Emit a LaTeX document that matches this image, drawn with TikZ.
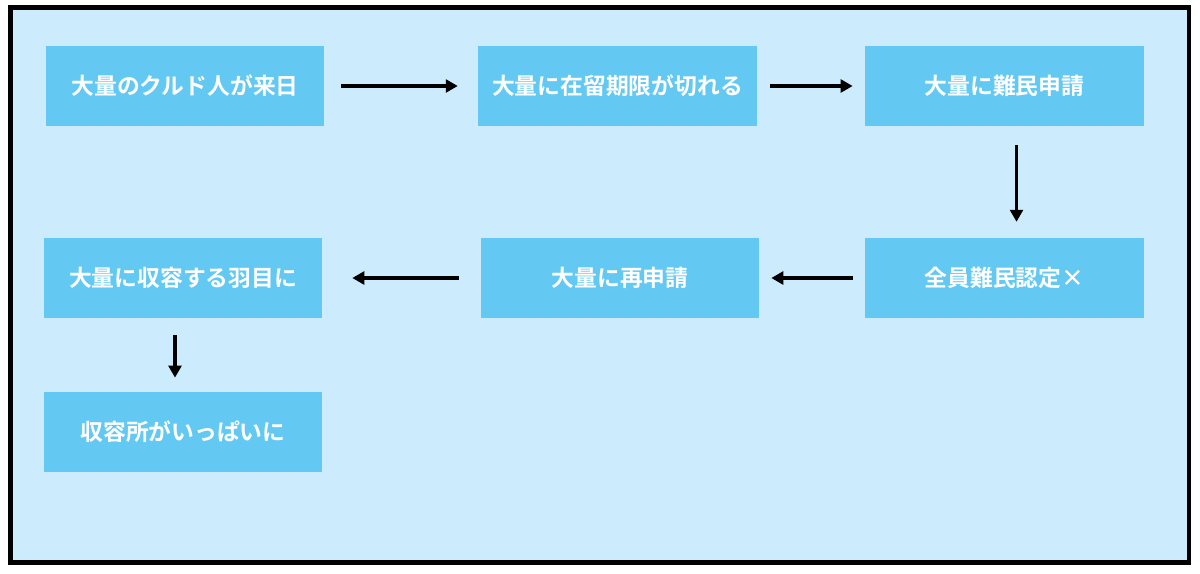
\documentclass[tikz,border=0pt]{standalone}
\usepackage{fontspec}
\newfontfamily\jpfont{Noto Sans CJK JP}[BoldFont={Noto Sans CJK JP Bold}]
\usetikzlibrary{arrows.meta}

\definecolor{bgblue}{RGB}{204,235,253}
\definecolor{boxblue}{RGB}{99,201,243}

\tikzset{
  stepbox/.style={fill=boxblue, minimum width=6.95cm, minimum height=2cm,
    inner sep=0pt, text=white, font=\jpfont\bfseries\fontsize{16.2}{19}\selectfont},
  flow/.style={line width=2.6pt, -{Triangle[length=3mm,width=3.2mm]}}
}

\begin{document}
\begin{tikzpicture}[x=0.025cm, y=-0.025cm]
  \useasboundingbox (0,0) rectangle (1200,573);
  \draw[line width=3.2pt, fill=bgblue] (10.5,7.5) rectangle (1189,562.5);

  % top row
  \node[stepbox] at (185,86) (n1) {大量のクルド人が来日};
  \node[stepbox] at (617.5,86) (n2) {大量に在留期限が切れる};
  \node[stepbox] at (1004.5,86) (n3) {大量に難民申請};
  \draw[flow, shorten <=12pt, shorten >=14.5pt] (n1) -- (n2);
  \draw[flow, shorten <=9.5pt, shorten >=8.9pt] (n2) -- (n3);

  % second row
  \node[stepbox] at (1004.5,278) (n4) {全員難民認定×};
  \node[stepbox] at (620,278) (n5) {大量に再申請};
  \node[stepbox] at (183,278) (n6) {大量に収容する羽目に};
  \draw[flow, shorten <=13.5pt, shorten >=11.3pt]
    ([xshift=0.3cm]n3.south) -- ([xshift=0.3cm]n4.north);
  \draw[flow, shorten <=8.5pt, shorten >=8.5pt] (n4) -- (n5);
  \draw[flow, shorten <=15.6pt, shorten >=21.3pt] (n5) -- (n6);

  \node[stepbox] at (183,432) (n7) {収容所がいっぱいに};
  \draw[flow, shorten <=12pt, shorten >=10pt]
    ([xshift=-0.2cm]n6.south) -- ([xshift=-0.2cm]n7.north);
\end{tikzpicture}
\end{document}
